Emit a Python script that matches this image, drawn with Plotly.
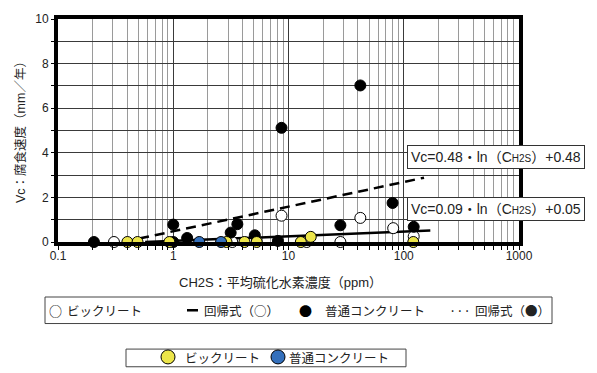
import numpy as np
import plotly.graph_objects as go

# ---- data -------------------------------------------------------------
# ビックリート (open circles)
bic_x = [0.306, 3.25, 8.7, 14.4, 28.2, 42.0, 81.0, 122.0]
bic_y = [0.0, 0.0, 1.18, 0.0, 0.0, 1.08, 0.62, 0.25]

# 普通コンクリート (filled circles)
nor_x = [0.205, 1.0, 1.0, 1.32, 3.15, 3.6, 5.1, 8.1, 8.7, 28.2, 42.0, 80.0, 122.0]
nor_y = [0.0, 0.78, 0.0, 0.18, 0.42, 0.80, 0.30, 0.05, 5.12, 0.75, 7.02, 1.75, 0.68]

# second group: ビックリート (yellow) / 普通コンクリート (blue)
yel_x = [0.40, 0.49, 0.925, 2.9, 4.15, 5.3, 12.8, 15.6, 121.0]
yel_y = [0.0, 0.0, 0.0, 0.0, 0.0, 0.0, 0.0, 0.23, 0.0]
blu_x = [1.68, 2.6]
blu_y = [0.0, 0.0]

# regression Vc = a * ln(CH2S) + b
reg_bic = (0.09, 0.05)
reg_nor = (0.48, 0.48)
reg_bic_span = (0.57, 170.0)
reg_nor_span = (0.37, 150.0)

x_tickvals = [0.1, 1, 10, 100, 1000]
x_ticktext = ["0.1", "1", "10", "100", "1000"]
y_tickvals = [0, 2, 4, 6, 8, 10]
y_ticktext = ["0", "2", "4", "6", "8", "10"]

# ---- layout geometry (pixels) ----------------------------------------
W, H = 597, 373
L, R, T, B = 58, 78, 15, 131
PW, PH = W - L - R, H - T - B


def px(x):
    return (x - L) / PW


def py(y):
    return (H - B - y) / PH


FONT = "Liberation Sans, Arial, Noto Sans CJK JP, sans-serif"
JFONT = "Noto Sans CJK JP, Liberation Sans, sans-serif"
TXT = "#222222"


def reg_line(coef, span, n=40):
    xs = np.logspace(np.log10(span[0]), np.log10(span[1]), n)
    return xs, coef[0] * np.log(xs) + coef[1]


fig = go.Figure()

rx, ry = reg_line(reg_bic, reg_bic_span)
fig.add_trace(go.Scatter(x=rx, y=ry, mode="lines",
                         line=dict(color="black", width=2.5), showlegend=False))
rx, ry = reg_line(reg_nor, reg_nor_span)
fig.add_trace(go.Scatter(x=rx, y=ry, mode="lines",
                         line=dict(color="black", width=2.5, dash="10px,6px"),
                         showlegend=False))

mk_line = dict(color="black", width=1)
fig.add_trace(go.Scatter(x=bic_x, y=bic_y, mode="markers", cliponaxis=False,
                         marker=dict(size=11, color="white", line=mk_line),
                         showlegend=False))
fig.add_trace(go.Scatter(x=nor_x, y=nor_y, mode="markers", cliponaxis=False,
                         marker=dict(size=11, color="black", line=mk_line),
                         showlegend=False))
fig.add_trace(go.Scatter(x=yel_x, y=yel_y, mode="markers", cliponaxis=False,
                         marker=dict(size=11, color="#ECE54A", line=mk_line),
                         showlegend=False))
fig.add_trace(go.Scatter(x=blu_x, y=blu_y, mode="markers", cliponaxis=False,
                         marker=dict(size=11, color="#3470BC", line=mk_line),
                         showlegend=False))

fig.update_xaxes(
    type="log", range=[-1, 3],
    tickvals=x_tickvals, ticktext=x_ticktext,
    showgrid=True, gridcolor="#3a3a3a", gridwidth=1,
    showline=True, linecolor="black", linewidth=4, mirror=True,
    ticks="", tickfont=dict(family=FONT, size=12, color=TXT),
    minor=dict(dtick="D1", showgrid=True, gridcolor="#9a9a9a", gridwidth=1,
               ticks="outside", ticklen=4, tickcolor="black", tickwidth=1),
    zeroline=False,
)
fig.update_yaxes(
    range=[0, 10], tickvals=y_tickvals, ticktext=y_ticktext,
    showgrid=True, gridcolor="#3a3a3a", gridwidth=1,
    showline=True, linecolor="black", linewidth=4, mirror=True,
    ticks="outside", ticklen=3, tickcolor="black",
    tickfont=dict(family=FONT, size=12, color=TXT),
    minor=dict(dtick=1, showgrid=True, gridcolor="#3a3a3a", gridwidth=1,
               ticks="outside", ticklen=3, tickcolor="black"),
    zeroline=False,
)

sub = "<span style='font-size:10px'>H2S</span>"
eq_nor = f"Vc=%.2f・ln（C{sub}）+%.2f" % reg_nor
eq_bic = f"Vc=%.2f・ln（C{sub}）+%.2f" % reg_bic

ann = []
ann.append(dict(text=eq_nor, x=px(585), y=py(155), xanchor="right", yanchor="middle",
                xref="paper", yref="paper", showarrow=False,
                font=dict(family=FONT, size=14, color=TXT),
                bgcolor="white", bordercolor="#333333", borderwidth=1, borderpad=3))
ann.append(dict(text=eq_bic, x=px(585), y=py(208.5), xanchor="right", yanchor="middle",
                xref="paper", yref="paper", showarrow=False,
                font=dict(family=FONT, size=14, color=TXT),
                bgcolor="white", bordercolor="#333333", borderwidth=1, borderpad=3))

# axis titles
ann.append(dict(text="CH2S：平均硫化水素濃度（ppm）", x=px(280), y=py(283),
                xanchor="center", yanchor="middle", xref="paper", yref="paper",
                showarrow=False, font=dict(family=FONT, size=13, color=TXT)))
ann.append(dict(text="Vc：腐食速度（mm／年）", x=px(20), y=py(127), textangle=-90,
                xanchor="center", yanchor="middle", xref="paper", yref="paper",
                showarrow=False, font=dict(family=FONT, size=12.5, color=TXT)))

# first legend: symbols and labels
leg1_sym = [("○", 55), ("●", 305), ("···", 460)]
for t, xp in leg1_sym:
    ann.append(dict(text=t, x=px(xp), y=py(311.5), xanchor="center", yanchor="middle",
                    xref="paper", yref="paper", showarrow=False,
                    font=dict(family=JFONT, size=13, color="black")))
leg1_txt = [("ビックリート", 65), ("回帰式（○）", 202),
            ("普通コンクリート", 323), ("回帰式（●）", 473)]
for t, xp in leg1_txt:
    ann.append(dict(text=t, x=px(xp), y=py(311.5), xanchor="left", yanchor="middle",
                    xref="paper", yref="paper", showarrow=False,
                    font=dict(family=JFONT, size=12.5, color=TXT)))

# second legend
leg2 = [("ビックリート", 183), ("普通コンクリート", 287)]
for t, xp in leg2:
    ann.append(dict(text=t, x=px(xp), y=py(359.5), xanchor="left", yanchor="middle",
                    xref="paper", yref="paper", showarrow=False,
                    font=dict(family=JFONT, size=12.5, color=TXT)))

shapes = [
    dict(type="rect", xref="paper", yref="paper", x0=px(45), x1=px(552),
         y0=py(325), y1=py(298), line=dict(color="#444444", width=1)),
    dict(type="rect", xref="paper", yref="paper", x0=px(126), x1=px(406),
         y0=py(369), y1=py(351), line=dict(color="#444444", width=1)),
    # solid-line legend key
    dict(type="line", xref="paper", yref="paper", x0=px(187), x1=px(198),
         y0=py(311.5), y1=py(311.5), line=dict(color="black", width=2.5)),
]
for cx, col in [(168, "#ECE54A"), (278, "#3470BC")]:
    shapes.append(dict(type="circle", xref="paper", yref="paper",
                       xsizemode="pixel", ysizemode="pixel",
                       xanchor=px(cx), yanchor=py(359), x0=-7, x1=7, y0=-7, y1=7,
                       fillcolor=col, line=dict(color="black", width=1)))

fig.update_layout(
    width=W, height=H, autosize=False,
    margin=dict(l=L, r=R, t=T, b=B, pad=0),
    paper_bgcolor="white", plot_bgcolor="white",
    annotations=ann, shapes=shapes, showlegend=False,
    font=dict(family=FONT, color=TXT),
)

fig.write_html("out.html")
